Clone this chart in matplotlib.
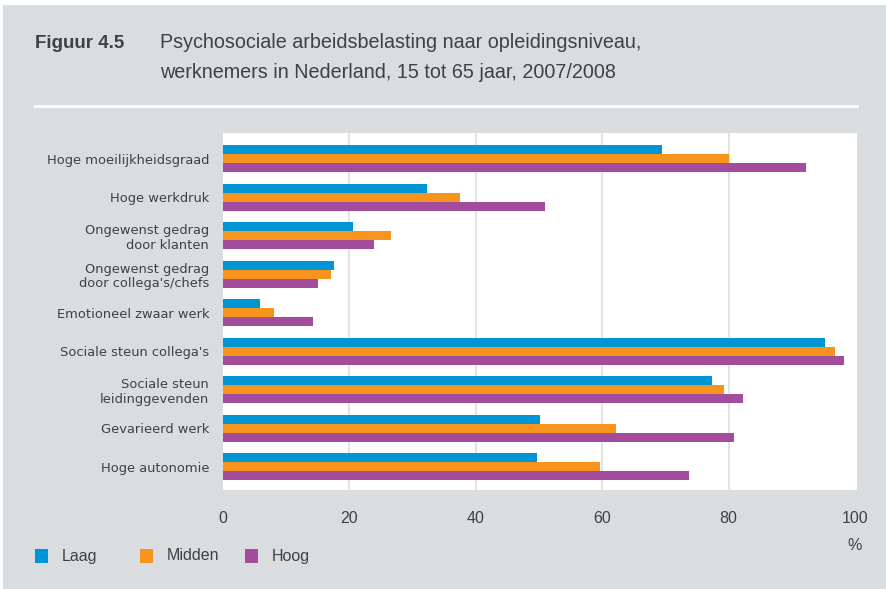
import matplotlib
matplotlib.use("Agg")
import matplotlib.pyplot as plt
from matplotlib.patches import Rectangle
from matplotlib.lines import Line2D
import numpy as np

categories = [
    "Hoge moeilijkheidsgraad",
    "Hoge werkdruk",
    "Ongewenst gedrag\ndoor klanten",
    "Ongewenst gedrag\ndoor collega's/chefs",
    "Emotioneel zwaar werk",
    "Sociale steun collega's",
    "Sociale steun\nleidinggevenden",
    "Gevarieerd werk",
    "Hoge autonomie",
]
laag = [69.5, 32.3, 20.6, 17.6, 5.9, 95.2, 77.3, 50.2, 49.7]
midden = [80.0, 37.5, 26.6, 17.1, 8.1, 96.8, 79.2, 62.1, 59.7]
hoog = [92.3, 50.9, 23.9, 15.1, 14.3, 98.3, 82.2, 80.8, 73.7]
series_names = ["Laag", "Midden", "Hoog"]
xticks = [0, 20, 40, 60, 80, 100]

narrow = "Liberation Sans"

W, H = 887, 589
BG = "#d9dde0"
TXT = "#3d4247"
colors = ["#0096d6", "#f7941d", "#a24c9b"]

fig = plt.figure(figsize=(W / 100, H / 100), dpi=100)
fig.patch.set_facecolor("white")
fig.patches.append(Rectangle((3 / W, 0), 1, 1 - 5 / H, transform=fig.transFigure,
                             facecolor=BG, edgecolor="none", zorder=-10))

# title
fig.text(35 / W, 1 - 43 / H, "Figuur 4.5", fontsize=13.5, fontweight="bold",
         family=narrow, color=TXT, va="center", ha="left")
fig.text(160 / W, 1 - 43 / H, "Psychosociale arbeidsbelasting naar opleidingsniveau,",
         fontsize=14.2, family=narrow, color=TXT, va="center", ha="left")
fig.text(160 / W, 1 - 73 / H, "werknemers in Nederland, 15 tot 65 jaar, 2007/2008",
         fontsize=14.2, family=narrow, color=TXT, va="center", ha="left")
fig.add_artist(Line2D([35 / W, 857 / W], [1 - 106 / H, 1 - 106 / H],
                      transform=fig.transFigure, color="white", lw=2))

ax = fig.add_axes([223 / W, 1 - 490 / H, 634 / W, 357 / H])
ax.set_facecolor("white")
y = np.arange(len(categories))
h = 0.234
for i, (vals, c, n) in enumerate(zip([laag, midden, hoog], colors, series_names)):
    ax.barh(y + (i - 1) * h, vals, height=h, color=c, label=n, zorder=3)

ax.set_xlim(0, 100.3)
ax.set_ylim(8.6, -0.675)
ax.set_yticks(y)
ax.set_yticklabels(categories, fontsize=9.4, color=TXT, linespacing=1.15)
ax.set_xticks(xticks)
ax.set_xticklabels([str(t) for t in xticks], fontsize=11.5, family=narrow, color=TXT)
ax.tick_params(axis="both", length=0)
ax.tick_params(axis="x", pad=15)
ax.tick_params(axis="y", pad=10)
for s in ax.spines.values():
    s.set_visible(False)
for t in xticks[1:-1]:
    ax.axvline(t, color="#e3e3e3", lw=1.5, zorder=1)

fig.text(855 / W, 1 - 546 / H, "%", fontsize=11.5, family=narrow, color=TXT,
         ha="center", va="center")

# legend (manual placement)
leg_x = [35, 140, 245]
for lx, c, n in zip(leg_x, colors, series_names):
    fig.patches.append(Rectangle((lx / W, 1 - 563 / H), 13 / W, 14 / H,
                                 transform=fig.transFigure, facecolor=c, edgecolor="none"))
    fig.text((lx + 27) / W, 1 - 556 / H, n, fontsize=11.5, family=narrow, color=TXT,
             ha="left", va="center")

fig.savefig("out.png", dpi=100, facecolor=fig.get_facecolor())
